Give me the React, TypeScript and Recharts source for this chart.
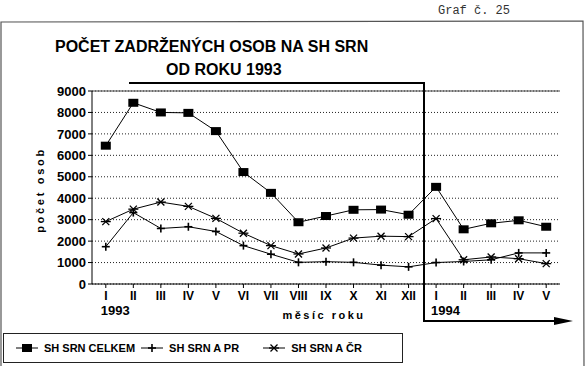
import React from 'react';
import { LineChart, Line, XAxis, YAxis, CartesianGrid, ReferenceLine } from 'recharts';

const months = ['I', 'II', 'III', 'IV', 'V', 'VI', 'VII', 'VIII', 'IX', 'X', 'XI', 'XII', 'I', 'II', 'III', 'IV', 'V'];
const years = ['1993', '', '', '', '', '', '', '', '', '', '', '', '1994', '', '', '', ''];
const celkem = [6450, 8450, 8000, 7980, 7130, 5220, 4250, 2880, 3170, 3460, 3470, 3230, 4530, 2550, 2830, 2970, 2670];
const prSeries = [1740, 3330, 2590, 2670, 2450, 1790, 1390, 1010, 1040, 1010, 880, 800, 1000, 1050, 1130, 1450, 1450];
const crSeries = [2910, 3490, 3820, 3620, 3060, 2370, 1790, 1400, 1680, 2140, 2230, 2210, 3050, 1130, 1260, 1180, 950];
const yTicks = [0, 1000, 2000, 3000, 4000, 5000, 6000, 7000, 8000, 9000];

const data = months.map((m, i) => ({ i, m, year: years[i], celkem: celkem[i], pr: prSeries[i], cr: crSeries[i] }));

const FONT = '"Liberation Sans", Arial, sans-serif';

const SquareDot = (p: any) => {
  const { cx, cy } = p;
  if (cx == null || cy == null) return null;
  return <rect x={cx - 5} y={cy - 4} width={10} height={8} fill="#000" />;
};

const PlusDot = (p: any) => {
  const { cx, cy } = p;
  if (cx == null || cy == null) return null;
  return (
    <g stroke="#000" strokeWidth={1.6}>
      <line x1={cx - 4} y1={cy} x2={cx + 4} y2={cy} />
      <line x1={cx} y1={cy - 4} x2={cx} y2={cy + 4} />
    </g>
  );
};

const StarDot = (p: any) => {
  const { cx, cy } = p;
  if (cx == null || cy == null) return null;
  return (
    <g stroke="#000" strokeWidth={1.3}>
      <line x1={cx - 5} y1={cy} x2={cx + 5} y2={cy} />
      <line x1={cx - 3.5} y1={cy - 3.5} x2={cx + 3.5} y2={cy + 3.5} />
      <line x1={cx - 3.5} y1={cy + 3.5} x2={cx + 3.5} y2={cy - 3.5} />
    </g>
  );
};

const MonthTick = (p: any) => {
  const { x, y, payload } = p;
  const i = payload.value as number;
  return (
    <g>
      <text x={x} y={y + 10} textAnchor="middle" fontFamily={FONT} fontWeight="bold" fontSize={12} fill="#000">
        {months[i]}
      </text>
      {years[i] ? (
        <text x={x - 5} y={y + 25} textAnchor="start" fontFamily={FONT} fontWeight="bold" fontSize={13} fill="#000">
          {years[i]}
        </text>
      ) : null}
    </g>
  );
};

const legendItems = [
  { name: 'SH SRN CELKEM', Dot: SquareDot },
  { name: 'SH SRN A PR', Dot: PlusDot },
  { name: 'SH SRN A ČR', Dot: StarDot },
];

const LegendBox = () => (
  <div style={{ position: 'absolute', left: 3, top: 333, width: 400, height: 30, border: '1px solid #222', display: 'flex', alignItems: 'center', boxSizing: 'border-box', paddingLeft: 10 }}>
    {legendItems.map((it, k) => (
      <div key={k} style={{ display: 'flex', alignItems: 'center', marginRight: k === 1 ? 22 : 4 }}>
        <svg width={26} height={12}>
          <line x1={2} y1={6} x2={24} y2={6} stroke="#000" strokeWidth={1} />
          <it.Dot cx={13} cy={6} />
        </svg>
        <span style={{ fontFamily: FONT, fontWeight: 'bold', fontSize: 11, marginLeft: 4 }}>{it.name}</span>
      </div>
    ))}
  </div>
);

export default function App() {
  return (
    <div style={{ position: 'absolute', left: 0, top: 0, width: 586, height: 368, background: '#fff', overflow: 'hidden' }}>
      <LineChart width={586} height={368} data={data} margin={{ top: 91, right: 26, bottom: 54, left: 32 }}>
        <CartesianGrid vertical={false} strokeDasharray="1 2" stroke="#222" />
        <XAxis
          dataKey="i"
          type="category"
          height={30}
          padding={{ left: 13.8, right: 13.8 }}
          tick={<MonthTick />}
          tickSize={4}
          tickMargin={2}
          axisLine={{ stroke: '#000' }}
          tickLine={{ stroke: '#000' }}
          interval={0}
        />
        <YAxis
          width={60}
          domain={[0, 9000]}
          ticks={yTicks}
          interval={0}
          tickSize={4}
          tickMargin={2}
          axisLine={{ stroke: '#000' }}
          tickLine={{ stroke: '#000' }}
          tick={{ fontFamily: FONT, fontWeight: 'bold', fontSize: 13, fill: '#000' }}
        />
        <YAxis yAxisId="r" orientation="right" width={0} tick={false} axisLine={{ stroke: '#444' }} tickLine={false} />
        <ReferenceLine y={9000} stroke="#444" />
        <Line dataKey="celkem" name="SH SRN CELKEM" stroke="#000" strokeWidth={1} dot={<SquareDot />} isAnimationActive={false} />
        <Line dataKey="pr" name="SH SRN A PR" stroke="#000" strokeWidth={1} dot={<PlusDot />} isAnimationActive={false} />
        <Line dataKey="cr" name="SH SRN A ČR" stroke="#000" strokeWidth={1} dot={<StarDot />} isAnimationActive={false} />
      </LineChart>
      <LegendBox />
      <svg width={586} height={368} style={{ position: 'absolute', left: 0, top: 0, pointerEvents: 'none' }}>
        <text x={438} y={14} fontFamily='"Liberation Mono", monospace' fontSize={12} fill="#333">Graf č. 25</text>
        <path d="M1,366 L1,22 L583,21 L584,366" fill="none" stroke="#555" strokeWidth={1.2} />
        <text x={55} y={52} fontFamily={FONT} fontWeight="bold" fontSize={16} fill="#000">POČET ZADRŽENÝCH OSOB NA SH SRN</text>
        <text x={166} y={75} fontFamily={FONT} fontWeight="bold" fontSize={16} fill="#000">OD ROKU 1993</text>
        <polyline points="129,83 424,83 424,321 560,321" fill="none" stroke="#000" strokeWidth={2} />
        <polygon points="554,317 573,321 554,325" fill="#000" />
        <text x={0} y={0} transform="translate(44,190) rotate(-90)" textAnchor="middle" fontFamily={FONT} fontWeight="bold" fontSize={11} letterSpacing={2.7} fill="#000">počet osob</text>
        <text x={324} y={319} textAnchor="middle" fontFamily={FONT} fontWeight="bold" fontSize={11} letterSpacing={2.5} fill="#000">měsíc roku</text>
      </svg>
    </div>
  );
}
